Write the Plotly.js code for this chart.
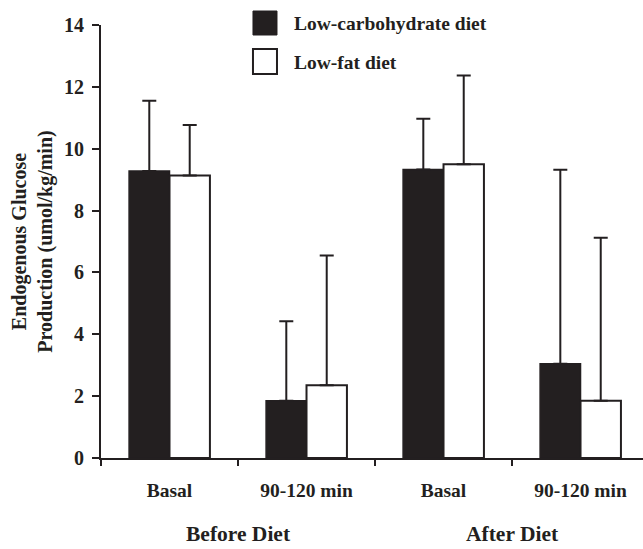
<!DOCTYPE html>
<html>
<head>
<meta charset="utf-8">
<script src="https://cdn.plot.ly/plotly-3.0.1.min.js"></script>
<style>html,body{margin:0;padding:0;background:#fff;}#chart{width:643px;height:549px;}</style>
</head>
<body>
<div id="chart"></div>
<script>
// Data
const conditions = ["Basal", "90-120 min", "Basal", "90-120 min"];
const periods = ["Before Diet", "After Diet"];
const seriesNames = ["Low-carbohydrate diet", "Low-fat diet"];
const lowCarbMean = [9.28, 1.85, 9.33, 3.05];
const lowCarbErr = [2.27, 2.57, 1.64, 6.27];
const lowFatMean = [9.13, 2.35, 9.5, 1.85];
const lowFatErr = [1.64, 4.2, 2.87, 5.27];
const yTicks = [0, 2, 4, 6, 8, 10, 12, 14];

const ink = "#231f20";
const font = "Liberation Serif";
const pos = conditions.map((_, i) => i);
const zeros = conditions.map(() => 0);
const boundaries = pos.map(p => p - 0.5);
const xRange = [-0.5, 3.456];

const errStyle = (arr) => ({type: "data", symmetric: false, array: arr, arrayminus: zeros,
  color: ink, thickness: 2, width: 7});

const traces = [
  {type: "bar", name: seriesNames[0], x: pos, y: lowCarbMean, error_y: errStyle(lowCarbErr),
   marker: {color: ink, line: {color: ink, width: 1.5}}, showlegend: false},
  {type: "bar", name: seriesNames[1], x: pos, y: lowFatMean, error_y: errStyle(lowFatErr),
   marker: {color: "#ffffff", line: {color: ink, width: 2}}, showlegend: false},
  {type: "scatter", x: [boundaries[0]], y: [0], xaxis: "x2", mode: "markers",
   marker: {opacity: 0}, showlegend: false, hoverinfo: "skip"}
];

const layout = {
  width: 643, height: 549,
  margin: {l: 101, r: 0, t: 25, b: 91},
  paper_bgcolor: "#fff", plot_bgcolor: "#fff",
  barmode: "group", bargap: 0.41, bargroupgap: 0,
  font: {family: font, color: ink},
  xaxis: {
    range: xRange, tickvals: pos, ticktext: conditions,
    ticks: "", showline: true, linecolor: ink, linewidth: 2,
    showgrid: false, zeroline: false, ticklabelstandoff: 14,
    tickfont: {family: font, size: 19.5, color: ink, weight: "bold"}
  },
  xaxis2: {
    overlaying: "x", matches: "x", range: xRange, side: "bottom", anchor: "y",
    tickvals: boundaries, showticklabels: false, ticks: "outside", ticklen: 7, tickwidth: 2,
    tickcolor: ink, showline: false, showgrid: false, zeroline: false
  },
  yaxis: {
    range: [0, 14], tickvals: yTicks, ticks: "outside", ticklen: 7, tickwidth: 2, tickcolor: ink,
    showline: true, linecolor: ink, linewidth: 2, showgrid: false, zeroline: false,
    ticklabelstandoff: 4,
    tickfont: {family: font, size: 20, color: ink, weight: "bold"},
    title: {text: "Endogenous Glucose<br>Production (umol/kg/min)", standoff: 6,
            font: {family: font, size: 20, color: ink, weight: "bold"}}
  },
  annotations: [
    {xref: "x", yref: "paper", x: 0.5, y: -0.176, yanchor: "middle", showarrow: false,
     text: periods[0], font: {family: font, size: 21.5, color: ink, weight: "bold"}},
    {xref: "x", yref: "paper", x: 2.5, y: -0.176, yanchor: "middle", showarrow: false,
     text: periods[1], font: {family: font, size: 21.5, color: ink, weight: "bold"}},
    {xref: "paper", yref: "paper", x: 0.352, y: 1.0046, xanchor: "left", yanchor: "middle", showarrow: false,
     text: seriesNames[0], font: {family: font, size: 19.5, color: ink, weight: "bold"}},
    {xref: "paper", yref: "paper", x: 0.352, y: 0.9145, xanchor: "left", yanchor: "middle", showarrow: false,
     text: seriesNames[1], font: {family: font, size: 19.5, color: ink, weight: "bold"}}
  ],
  shapes: [
    {type: "rect", xref: "paper", yref: "paper", x0: 0.2804, x1: 0.3247, y0: 0.9769, y1: 1.0323,
     fillcolor: ink, line: {color: ink, width: 1}},
    {type: "rect", xref: "paper", yref: "paper", x0: 0.2804, x1: 0.3247, y0: 0.8868, y1: 0.9446,
     fillcolor: "#fff", line: {color: ink, width: 2}}
  ]
};

Plotly.newPlot("chart", traces, layout, {displayModeBar: false, staticPlot: true});
</script>
</body>
</html>
